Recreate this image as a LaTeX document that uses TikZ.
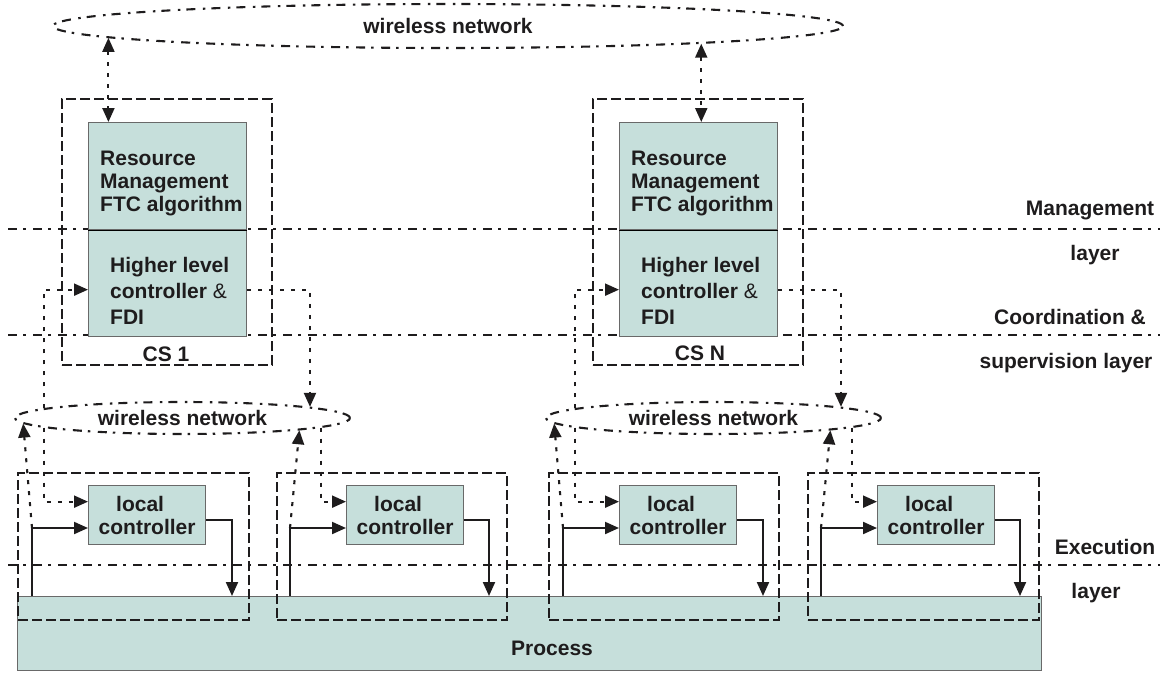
\documentclass[tikz,border=0pt]{standalone}
\usepackage{fontspec}
\setmainfont{Liberation Sans}
\usetikzlibrary{arrows.meta,shapes.geometric,calc}
\definecolor{boxfill}{RGB}{198,223,219}
\definecolor{boxedge}{RGB}{105,105,105}
\definecolor{ink}{RGB}{30,28,29}
\begin{document}
\begin{tikzpicture}[x=1pt,y=-1pt,
  every node/.style={font=\fontsize{21}{23}\selectfont\bfseries, text=ink},
  layerline/.style={draw=ink, line width=2.1pt, dash pattern=on 9pt off 6pt on 2.5pt off 7.5pt},
  netshape/.style={ellipse, draw=ink, line width=2.1pt, dash pattern=on 9pt off 6pt on 2.5pt off 7.5pt, inner sep=0pt},
  frame/.style={draw=ink, line width=2.1pt, dash pattern=on 10pt off 4pt, inner sep=0pt, anchor=north west},
  greenbox/.style={draw=boxedge, line width=1.3pt, fill=boxfill, inner sep=0pt, anchor=north west},
  txt/.style={inner sep=0pt},
  sig/.style={draw=ink, line width=2.1pt, -{Triangle[length=14pt,width=12pt]}},
  wsig/.style={draw=ink, line width=2.1pt, dash pattern=on 4pt off 7pt, -{Triangle[length=14pt,width=12pt]}},
  wsig2/.style={draw=ink, line width=2.1pt, dash pattern=on 4pt off 7pt, {Triangle[length=14pt,width=12pt]}-{Triangle[length=14pt,width=12pt]}}
]
\useasboundingbox (0,0) rectangle (1160,673);

% layer boundaries
\draw[layerline] (8,229) -- (1160,229);
\draw[layerline] (8,335) -- (1160,335);
\draw[layerline] (8,565) -- (1160,565);

% layer names
\node[txt] (lm1) at (1090,210) {Management};
\node[txt] (lm2) at (1095,255) {layer};
\node[txt] (lc1) at (1070,317) {Coordination \&};
\node[txt] (lc2) at (1066,363) {supervision layer};
\node[txt] (le1) at (1105,547) {Execution};
\node[txt] (le2) at (1096,593) {layer};

% process
\node[greenbox, minimum width=1024pt, minimum height=74pt] (proc) at (17,596) {};
\node[txt] (proct) at (552,648) {Process};

% coordination stations
\node[frame, minimum width=210pt, minimum height=266pt] (cs1) at (61,98) {};
\node[frame, minimum width=210pt, minimum height=266pt] (csn) at (592,98) {};
\node[txt] (cs1t) at (166,354) {CS 1};
\node[txt] (csnt) at (700,353) {CS N};

\node[greenbox, minimum width=158pt, minimum height=107pt] (rm1) at (88,122) {};
\node[greenbox, minimum width=158pt, minimum height=107pt] (hl1) at (88,229) {};
\node[greenbox, minimum width=158pt, minimum height=107pt] (rm2) at (619,122) {};
\node[greenbox, minimum width=158pt, minimum height=107pt] (hl2) at (619,229) {};
\draw[line width=1pt, draw=black] (rm1.south west) -- (rm1.south east);
\draw[line width=1pt, draw=black] (rm2.south west) -- (rm2.south east);

\node[txt, anchor=west, align=left] (rm1t) at (100,183) {Resource\\Management\\FTC algorithm};
\node[txt, anchor=west, align=left] (rm2t) at (631,183) {Resource\\Management\\FTC algorithm};
\node[txt, anchor=west, align=left, font=\fontsize{21}{26}\selectfont\bfseries] (hl1t) at (110,291) {Higher level\\controller {\mdseries\&}\\FDI};
\node[txt, anchor=west, align=left, font=\fontsize{21}{26}\selectfont\bfseries] (hl2t) at (641,291) {Higher level\\controller {\mdseries\&}\\FDI};

% wireless networks
\node[netshape, minimum width=790pt, minimum height=44pt] (wn) at (448,26) {wireless network};
\node[netshape, minimum width=335pt, minimum height=32pt] (wa) at (182.5,418) {wireless network};
\node[netshape, minimum width=335pt, minimum height=32pt] (wb) at (713.5,418) {wireless network};

% local control loops
\node[frame, minimum width=231pt, minimum height=147pt] (la) at (17,472) {};
\node[frame, minimum width=230pt, minimum height=147pt] (lb) at (276,472) {};
\node[frame, minimum width=230pt, minimum height=147pt] (lc) at (548,472) {};
\node[frame, minimum width=231pt, minimum height=147pt] (ld) at (807,472) {};

\node[greenbox, minimum width=117pt, minimum height=59pt, align=center] (ca) at (88,485) {local\hspace*{14pt}\\controller};
\node[greenbox, minimum width=117pt, minimum height=59pt, align=center] (cb) at (346,485) {local\hspace*{14pt}\\controller};
\node[greenbox, minimum width=117pt, minimum height=59pt, align=center] (cc) at (619,485) {local\hspace*{14pt}\\controller};
\node[greenbox, minimum width=117pt, minimum height=59pt, align=center] (cd) at (877,485) {local\hspace*{14pt}\\controller};

% sensor taps and actuator points
\coordinate (ta) at (32,528);
\coordinate (tb) at (290,528);
\coordinate (tc) at (563,528);
\coordinate (td) at (821,528);
\coordinate (oa) at (232,596);
\coordinate (ob) at (489,596);
\coordinate (oc) at (763,596);
\coordinate (od) at (1020,596);

% wired loops
\foreach \t/\c/\o in {ta/ca/oa, tb/cb/ob, tc/cc/oc, td/cd/od}{
  \draw[sig] (\t |- proc.north) -- (\t) -- (\t -| \c.west);
  \draw[sig] ([yshift=-4.5pt]\c.east) -| (\o);
}

% wireless links, execution layer
\draw[wsig] (ta) -- (wa.182.67);
\draw[wsig] (tb) -- (wa.-6.51);
\draw[wsig] (tc) -- (wb.182.67);
\draw[wsig] (td) -- (wb.-6.51);
\draw[wsig] (wa.184.40) |- ([yshift=13.5pt]ca.west);
\draw[wsig] (wa.-4.74) |- ([yshift=13.5pt]cb.west);
\draw[wsig] (wb.184.40) |- ([yshift=13.5pt]cc.west);
\draw[wsig] (wb.-4.65) |- ([yshift=13.5pt]cd.west);

% wireless links, coordination layer
\draw[wsig] (wa.176.97) |- ([yshift=-6.5pt]hl1.west);
\draw[wsig] ([yshift=-6.5pt]hl1.east) -| (wa.5.27);
\draw[wsig] (wb.176.97) |- ([yshift=-6.5pt]hl2.west);
\draw[wsig] ([yshift=-6.5pt]hl2.east) -| (wb.5.27);

% wireless links, management layer
\draw[wsig2] (wn.182.84) -- (wn.182.84 |- rm1.north);
\draw[wsig2] (wn.-4.27) -- (wn.-4.27 |- rm2.north);
\end{tikzpicture}
\end{document}
